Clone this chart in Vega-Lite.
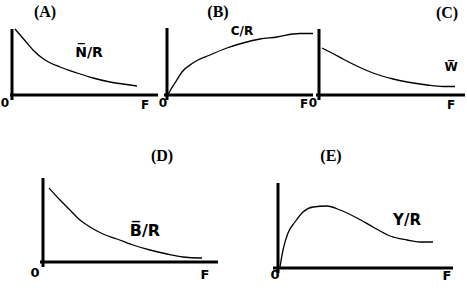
{
  "$schema": "https://vega.github.io/schema/vega-lite/v6.json",
  "padding": 0,
  "background": "white",
  "config": {"view": {"stroke": null}},
  "datasets": {
    "axes": [
      {"p": "A", "x": -0.2, "x2": 14.6, "y": 0, "y2": 0},
      {"p": "A", "x": 0, "x2": 0, "y": -0.5, "y2": 6.6},
      {"p": "B", "x": -0.3, "x2": 14.6, "y": 0, "y2": 0},
      {"p": "B", "x": 0, "x2": 0, "y": -0.5, "y2": 6.7},
      {"p": "C", "x": -0.3, "x2": 14.6, "y": 0, "y2": 0},
      {"p": "C", "x": 0, "x2": 0, "y": -0.5, "y2": 6.6},
      {"p": "D", "x": -0.3, "x2": 17.5, "y": 0, "y2": 0},
      {"p": "D", "x": 0, "x2": 0, "y": -0.5, "y2": 8.4},
      {"p": "E", "x": -0.5, "x2": 17.5, "y": 0, "y2": 0},
      {"p": "E", "x": 0, "x2": 0, "y": -0.5, "y2": 8.5}
    ],
    "curves": [
      {"p": "A", "x": 0.3, "y": 6.6}, {"p": "A", "x": 1.5, "y": 5.2}, {"p": "A", "x": 2.1, "y": 4.5},
      {"p": "A", "x": 3.3, "y": 3.5}, {"p": "A", "x": 4.8, "y": 2.8}, {"p": "A", "x": 6.5, "y": 2.2},
      {"p": "A", "x": 8.1, "y": 1.7}, {"p": "A", "x": 9.8, "y": 1.3}, {"p": "A", "x": 11.1, "y": 1.1},
      {"p": "A", "x": 12.5, "y": 0.9},
      {"p": "B", "x": 0.1, "y": 0.0}, {"p": "B", "x": 0.3, "y": 0.4}, {"p": "B", "x": 0.8, "y": 1.2},
      {"p": "B", "x": 1.5, "y": 2.3}, {"p": "B", "x": 2.6, "y": 3.2}, {"p": "B", "x": 4.3, "y": 4.0},
      {"p": "B", "x": 6.0, "y": 4.7}, {"p": "B", "x": 7.6, "y": 5.2}, {"p": "B", "x": 9.3, "y": 5.6},
      {"p": "B", "x": 11.0, "y": 5.8}, {"p": "B", "x": 12.6, "y": 6.1}, {"p": "B", "x": 13.3, "y": 6.15},
      {"p": "B", "x": 14.6, "y": 6.15},
      {"p": "C", "x": 0.3, "y": 4.7}, {"p": "C", "x": 1.4, "y": 4.15}, {"p": "C", "x": 2.4, "y": 3.6},
      {"p": "C", "x": 4.1, "y": 2.75}, {"p": "C", "x": 5.4, "y": 2.2}, {"p": "C", "x": 7.4, "y": 1.6},
      {"p": "C", "x": 9.1, "y": 1.25}, {"p": "C", "x": 10.8, "y": 1.0}, {"p": "C", "x": 12.4, "y": 0.85},
      {"p": "C", "x": 13.6, "y": 0.85},
      {"p": "D", "x": 0.6, "y": 7.4}, {"p": "D", "x": 1.7, "y": 6.2}, {"p": "D", "x": 2.7, "y": 5.2},
      {"p": "D", "x": 3.7, "y": 4.2}, {"p": "D", "x": 4.7, "y": 3.5}, {"p": "D", "x": 6.0, "y": 2.8},
      {"p": "D", "x": 7.4, "y": 2.3}, {"p": "D", "x": 9.0, "y": 1.7}, {"p": "D", "x": 10.7, "y": 1.2},
      {"p": "D", "x": 12.4, "y": 0.8}, {"p": "D", "x": 14.0, "y": 0.5}, {"p": "D", "x": 15.7, "y": 0.4},
      {"p": "D", "x": 15.9, "y": 0.4},
      {"p": "E", "x": 0.2, "y": 0.1}, {"p": "E", "x": 0.5, "y": 1.8}, {"p": "E", "x": 1.0, "y": 3.5},
      {"p": "E", "x": 1.7, "y": 4.6}, {"p": "E", "x": 2.5, "y": 5.6}, {"p": "E", "x": 3.5, "y": 6.1},
      {"p": "E", "x": 4.9, "y": 6.2}, {"p": "E", "x": 6.2, "y": 5.8}, {"p": "E", "x": 7.9, "y": 5.0},
      {"p": "E", "x": 9.5, "y": 4.1}, {"p": "E", "x": 11.2, "y": 3.2}, {"p": "E", "x": 12.9, "y": 2.8},
      {"p": "E", "x": 14.2, "y": 2.6}, {"p": "E", "x": 15.5, "y": 2.6}
    ],
    "titles": [
      {"p": "A", "x": 3.3, "y": 8.3, "t": "(A)"},
      {"p": "B", "x": 5.1, "y": 8.3, "t": "(B)"},
      {"p": "C", "x": 12.8, "y": 8.2, "t": "(C)"},
      {"p": "D", "x": 11.9, "y": 10.6, "t": "(D)"},
      {"p": "E", "x": 5.3, "y": 11.2, "t": "(E)"}
    ],
    "ticks": [
      {"p": "A", "x": -0.7, "y": -0.8, "t": "0"}, {"p": "A", "x": 13.3, "y": -1.0, "t": "F"},
      {"p": "B", "x": -0.4, "y": -0.8, "t": "0"}, {"p": "B", "x": 13.7, "y": -0.9, "t": "F"},
      {"p": "C", "x": -0.6, "y": -0.8, "t": "0"}, {"p": "C", "x": 13.2, "y": -1.0, "t": "F"},
      {"p": "D", "x": -0.8, "y": -1.1, "t": "0"}, {"p": "D", "x": 16.2, "y": -1.3, "t": "F"},
      {"p": "E", "x": -0.3, "y": -0.7, "t": "0"}, {"p": "E", "x": 16.9, "y": -0.8, "t": "F"}
    ],
    "names": [
      {"p": "A", "x": 7.7, "y": 4.2, "t": "N\u0305/R"},
      {"p": "B", "x": 7.5, "y": 6.4, "t": "C/R"},
      {"p": "C", "x": 13.2, "y": 2.8, "t": "W\u0305"},
      {"p": "D", "x": 10.2, "y": 3.1, "t": "B\u0305/R"},
      {"p": "E", "x": 12.9, "y": 4.8, "t": "Y/R"}
    ]
  },
  "vconcat": [
    {
      "hconcat": [
        {
          "width": 160, "height": 120,
          "encoding": {
            "x": {"field": "x", "type": "quantitative", "scale": {"domain": [-1.2, 14.8], "nice": false, "zero": false}, "axis": null},
            "y": {"field": "y", "type": "quantitative", "scale": {"domain": [-2.5, 9.5], "nice": false, "zero": false}, "axis": null}
          },
          "layer": [
            {"data": {"name": "axes"}, "transform": [{"filter": "datum.p == 'A'"}], "mark": {"type": "rule", "color": "black", "strokeWidth": 3}, "encoding": {"x2": {"field": "x2"}, "y2": {"field": "y2"}}},
            {"data": {"name": "curves"}, "transform": [{"filter": "datum.p == 'A'"}], "mark": {"type": "line", "color": "black", "strokeWidth": 1.3, "interpolate": "monotone"}, "encoding": {}},
            {"data": {"name": "titles"}, "transform": [{"filter": "datum.p == 'A'"}], "mark": {"type": "text", "font": "Liberation Serif", "fontWeight": "bold", "fontSize": 16, "baseline": "middle", "align": "center"}, "encoding": {"text": {"field": "t"}}},
            {"data": {"name": "ticks"}, "transform": [{"filter": "datum.p == 'A'"}], "mark": {"type": "text", "font": "DejaVu Sans", "fontWeight": "bold", "fontSize": 12, "baseline": "middle", "align": "center"}, "encoding": {"text": {"field": "t"}}},
            {"data": {"name": "names"}, "transform": [{"filter": "datum.p == 'A'"}], "mark": {"type": "text", "font": "DejaVu Sans", "fontWeight": "bold", "fontSize": 14, "baseline": "middle", "align": "center"}, "encoding": {"text": {"field": "t"}}}
          ]
        },
        {
          "width": 156, "height": 120,
          "encoding": {
            "x": {"field": "x", "type": "quantitative", "scale": {"domain": [-0.7, 14.9], "nice": false, "zero": false}, "axis": null},
            "y": {"field": "y", "type": "quantitative", "scale": {"domain": [-2.5, 9.5], "nice": false, "zero": false}, "axis": null}
          },
          "layer": [
            {"data": {"name": "axes"}, "transform": [{"filter": "datum.p == 'B'"}], "mark": {"type": "rule", "color": "black", "strokeWidth": 3}, "encoding": {"x2": {"field": "x2"}, "y2": {"field": "y2"}}},
            {"data": {"name": "curves"}, "transform": [{"filter": "datum.p == 'B'"}], "mark": {"type": "line", "color": "black", "strokeWidth": 1.3, "interpolate": "monotone"}, "encoding": {}},
            {"data": {"name": "titles"}, "transform": [{"filter": "datum.p == 'B'"}], "mark": {"type": "text", "font": "Liberation Serif", "fontWeight": "bold", "fontSize": 16, "baseline": "middle", "align": "center"}, "encoding": {"text": {"field": "t"}}},
            {"data": {"name": "ticks"}, "transform": [{"filter": "datum.p == 'B'"}], "mark": {"type": "text", "font": "DejaVu Sans", "fontWeight": "bold", "fontSize": 12, "baseline": "middle", "align": "center"}, "encoding": {"text": {"field": "t"}}},
            {"data": {"name": "names"}, "transform": [{"filter": "datum.p == 'B'"}], "mark": {"type": "text", "font": "DejaVu Sans", "fontWeight": "bold", "fontSize": 12, "baseline": "middle", "align": "center"}, "encoding": {"text": {"field": "t"}}}
          ]
        },
        {
          "width": 151, "height": 120,
          "encoding": {
            "x": {"field": "x", "type": "quantitative", "scale": {"domain": [-0.3, 14.8], "nice": false, "zero": false}, "axis": null},
            "y": {"field": "y", "type": "quantitative", "scale": {"domain": [-2.5, 9.5], "nice": false, "zero": false}, "axis": null}
          },
          "layer": [
            {"data": {"name": "axes"}, "transform": [{"filter": "datum.p == 'C'"}], "mark": {"type": "rule", "color": "black", "strokeWidth": 3}, "encoding": {"x2": {"field": "x2"}, "y2": {"field": "y2"}}},
            {"data": {"name": "curves"}, "transform": [{"filter": "datum.p == 'C'"}], "mark": {"type": "line", "color": "black", "strokeWidth": 1.3, "interpolate": "monotone"}, "encoding": {}},
            {"data": {"name": "titles"}, "transform": [{"filter": "datum.p == 'C'"}], "mark": {"type": "text", "font": "Liberation Serif", "fontWeight": "bold", "fontSize": 16, "baseline": "middle", "align": "center"}, "encoding": {"text": {"field": "t"}}},
            {"data": {"name": "ticks"}, "transform": [{"filter": "datum.p == 'C'"}], "mark": {"type": "text", "font": "DejaVu Sans", "fontWeight": "bold", "fontSize": 12, "baseline": "middle", "align": "center"}, "encoding": {"text": {"field": "t"}}},
            {"data": {"name": "names"}, "transform": [{"filter": "datum.p == 'C'"}], "mark": {"type": "text", "font": "DejaVu Sans", "fontWeight": "bold", "fontSize": 12, "baseline": "middle", "align": "center"}, "encoding": {"text": {"field": "t"}}}
          ]
        }
      ],
      "spacing": 0,
      "bounds": "flush"
    },
    {
      "hconcat": [
        {
          "width": 235, "height": 168,
          "encoding": {
            "x": {"field": "x", "type": "quantitative", "scale": {"domain": [-4.3, 19.2], "nice": false, "zero": false}, "axis": null},
            "y": {"field": "y", "type": "quantitative", "scale": {"domain": [-2.6, 14.2], "nice": false, "zero": false}, "axis": null}
          },
          "layer": [
            {"data": {"name": "axes"}, "transform": [{"filter": "datum.p == 'D'"}], "mark": {"type": "rule", "color": "black", "strokeWidth": 3}, "encoding": {"x2": {"field": "x2"}, "y2": {"field": "y2"}}},
            {"data": {"name": "curves"}, "transform": [{"filter": "datum.p == 'D'"}], "mark": {"type": "line", "color": "black", "strokeWidth": 1.3, "interpolate": "monotone"}, "encoding": {}},
            {"data": {"name": "titles"}, "transform": [{"filter": "datum.p == 'D'"}], "mark": {"type": "text", "font": "Liberation Serif", "fontWeight": "bold", "fontSize": 16, "baseline": "middle", "align": "center"}, "encoding": {"text": {"field": "t"}}},
            {"data": {"name": "ticks"}, "transform": [{"filter": "datum.p == 'D'"}], "mark": {"type": "text", "font": "DejaVu Sans", "fontWeight": "bold", "fontSize": 13, "baseline": "middle", "align": "center"}, "encoding": {"text": {"field": "t"}}},
            {"data": {"name": "names"}, "transform": [{"filter": "datum.p == 'D'"}], "mark": {"type": "text", "font": "DejaVu Sans", "fontWeight": "bold", "fontSize": 16, "baseline": "middle", "align": "center"}, "encoding": {"text": {"field": "t"}}}
          ]
        },
        {
          "width": 232, "height": 168,
          "encoding": {
            "x": {"field": "x", "type": "quantitative", "scale": {"domain": [-4.3, 18.9], "nice": false, "zero": false}, "axis": null},
            "y": {"field": "y", "type": "quantitative", "scale": {"domain": [-2.0, 14.8], "nice": false, "zero": false}, "axis": null}
          },
          "layer": [
            {"data": {"name": "axes"}, "transform": [{"filter": "datum.p == 'E'"}], "mark": {"type": "rule", "color": "black", "strokeWidth": 3}, "encoding": {"x2": {"field": "x2"}, "y2": {"field": "y2"}}},
            {"data": {"name": "curves"}, "transform": [{"filter": "datum.p == 'E'"}], "mark": {"type": "line", "color": "black", "strokeWidth": 1.3, "interpolate": "monotone"}, "encoding": {}},
            {"data": {"name": "titles"}, "transform": [{"filter": "datum.p == 'E'"}], "mark": {"type": "text", "font": "Liberation Serif", "fontWeight": "bold", "fontSize": 16, "baseline": "middle", "align": "center"}, "encoding": {"text": {"field": "t"}}},
            {"data": {"name": "ticks"}, "transform": [{"filter": "datum.p == 'E'"}], "mark": {"type": "text", "font": "DejaVu Sans", "fontWeight": "bold", "fontSize": 13, "baseline": "middle", "align": "center"}, "encoding": {"text": {"field": "t"}}},
            {"data": {"name": "names"}, "transform": [{"filter": "datum.p == 'E'"}], "mark": {"type": "text", "font": "DejaVu Sans", "fontWeight": "bold", "fontSize": 15, "baseline": "middle", "align": "center"}, "encoding": {"text": {"field": "t"}}}
          ]
        }
      ],
      "spacing": 0,
      "bounds": "flush"
    }
  ],
  "spacing": 0,
  "bounds": "full"
}
